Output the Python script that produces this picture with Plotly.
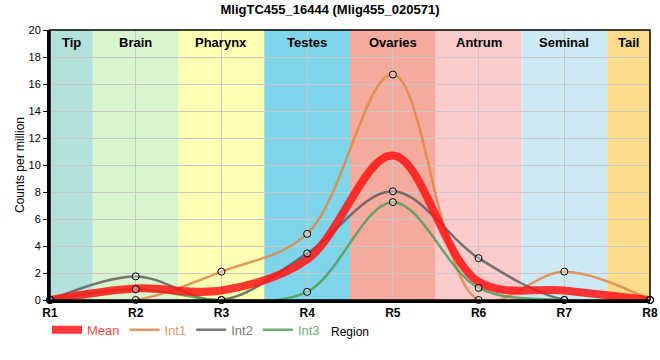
import plotly.graph_objects as go

regions = ["R1", "R2", "R3", "R4", "R5", "R6", "R7", "R8"]
mean_vals = [0.0, 0.85, 0.7, 3.0, 10.7, 1.35, 0.7, 0.0]
int1_vals = [0.0, 0.0, 2.1, 4.9, 16.7, 0.0, 2.1, 0.0]
int2_vals = [0.0, 1.75, 0.0, 3.45, 8.05, 3.1, 0.0, 0.0]
int3_vals = [0.0, 0.8, 0.0, 0.6, 7.25, 0.9, 0.0, 0.0]

band_names = ["Tip", "Brain", "Pharynx", "Testes", "Ovaries", "Antrum", "Seminal", "Tail"]
band_starts = [1.0, 1.5, 2.5, 3.5, 4.5, 5.5, 6.5, 7.5]
band_ends = [1.5, 2.5, 3.5, 4.5, 5.5, 6.5, 7.5, 8.0]
band_colors = ["#b3e2dd", "#d9f5d0", "#ffffb3", "#80d4ea", "#f4ab9c", "#fccbcb", "#cdeaf4", "#fddb8c"]

title = "MligTC455_16444 (Mlig455_020571)"
x = list(range(1, len(regions) + 1))

FONT = "Liberation Sans, Arial, sans-serif"

fig = go.Figure()

series = [
    ("Int1", int1_vals, "rgba(221,135,70,0.85)", "#e39a66"),
    ("Int2", int2_vals, "rgba(95,95,95,0.85)", "#777777"),
    ("Int3", int3_vals, "rgba(80,155,90,0.85)", "#72b07a"),
]

rank = 2
for name, vals, col, tcol in series:
    fig.add_trace(go.Scatter(
        x=x, y=vals, mode="lines", name=f'<span style="color:{tcol}">{name}</span>',
        line=dict(color=col, width=2.5, shape="spline", smoothing=1.0),
        legendrank=rank, hoverinfo="skip"))
    rank += 1

fig.add_trace(go.Scatter(
    x=x, y=mean_vals, mode="lines", name='<span style="color:#ff4d4d">Mean</span>',
    line=dict(color="rgba(255,20,20,0.85)", width=8, shape="spline", smoothing=1.0),
    legendrank=1, hoverinfo="skip"))

for name, vals, col, tcol in series:
    fig.add_trace(go.Scatter(
        x=x, y=vals, mode="markers", showlegend=False, cliponaxis=False,
        marker=dict(size=7, color="rgba(255,255,255,0.35)",
                    line=dict(color="black", width=1)),
        hoverinfo="skip"))

shapes = []
for s, e, c in zip(band_starts, band_ends, band_colors):
    shapes.append(dict(type="rect", xref="x", yref="y", x0=s, x1=e, y0=0, y1=20,
                       fillcolor=c, line=dict(width=0), layer="below"))
shapes.append(dict(type="rect", xref="paper", yref="paper", x0=0, x1=1, y0=0, y1=1,
                   line=dict(color="black", width=1.5), layer="above"))

annotations = []
for s, e, n in zip(band_starts, band_ends, band_names):
    annotations.append(dict(x=(s + e) / 2, y=19.1, xref="x", yref="y", text=f"<b>{n}</b>",
                            showarrow=False, font=dict(size=13, color="black", family=FONT)))

fig.update_layout(
    width=660, height=360,
    margin=dict(l=50, r=10, t=30, b=60),
    paper_bgcolor="white", plot_bgcolor="white",
    font=dict(family=FONT, size=12, color="black"),
    title=dict(text=f"<b>{title}</b>", x=0.5, xanchor="center", y=0.975, yanchor="middle",
               font=dict(size=13, family=FONT, color="black")),
    shapes=shapes, annotations=annotations,
    showlegend=True,
    legend=dict(orientation="h", x=-0.005, xanchor="left", y=-0.055, yanchor="top",
                font=dict(size=13, family=FONT), bgcolor="rgba(0,0,0,0)",
                itemwidth=30, tracegroupgap=0),
    xaxis=dict(range=[1, 8], tickvals=x, ticktext=[f"<b>{r}</b>" for r in regions],
               tickfont=dict(size=12, family=FONT), showgrid=True, gridcolor="#c8c8c8",
               gridwidth=1, zeroline=False, showline=True, linecolor="black", linewidth=3,
               ticks="", automargin=False,
               title=dict(text="Region", font=dict(size=12), standoff=9)),
    yaxis=dict(range=[0, 20], dtick=2, tickfont=dict(size=11, family=FONT),
               showgrid=True, gridcolor="#c8c8c8", gridwidth=1, zeroline=False,
               showline=True, linecolor="black", linewidth=3, ticks="outside",
               ticklen=4, tickcolor="black", automargin=False,
               title=dict(text="Counts per million", font=dict(size=12), standoff=2)),
)

fig.write_html("out.html", config={"displayModeBar": False},
               post_script="document.body.style.margin='0';")
